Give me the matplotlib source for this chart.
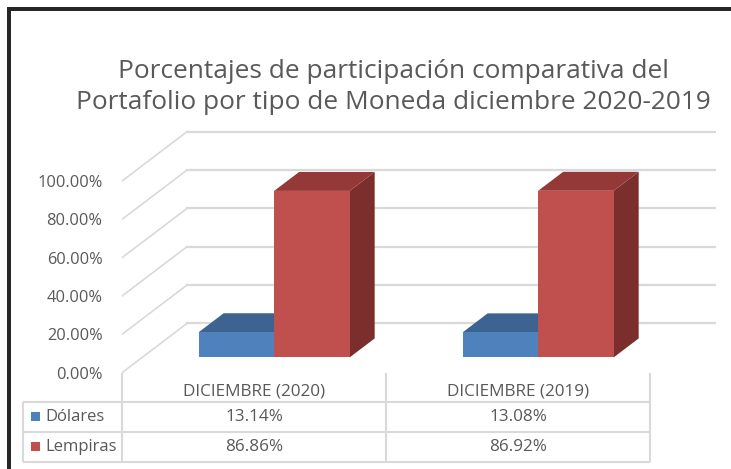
import matplotlib
matplotlib.use("Agg")
import matplotlib.pyplot as plt
from matplotlib.patches import Polygon, Rectangle

# data
categories = ["DICIEMBRE (2020)", "DICIEMBRE (2019)"]
series_names = ["Dólares", "Lempiras"]
dolares = [13.14, 13.08]
lempiras = [86.86, 86.92]
y_ticks = [0, 20, 40, 60, 80, 100]

BLUE, BLUE_TOP, BLUE_SIDE = "#4f81bd", "#3d6391", "#345580"
RED, RED_TOP, RED_SIDE = "#c0504d", "#943937", "#7b2f2d"
GRID = "#d9d9d9"
TEXT = "#595959"
FONT = "Open Sans"

W, H = 731, 469
plt.rcParams["font.family"] = [FONT, "DejaVu Sans"]
fig = plt.figure(figsize=(W / 100, H / 100), dpi=100)

# pixel layout of the front plane of the 3d plot
x_left, x_end = 122, 716
y_zero, y_top = 372.7, 125
px_per_cat = 264.0
px_per_pct = 1.917

ax = fig.add_axes([x_left / W, 1 - y_zero / H, (x_end - x_left) / W, (y_zero - y_top) / H])
xmax = -0.5 + (x_end - x_left) / px_per_cat
ax.set_xlim(-0.5, xmax)
ax.set_ylim(0, (y_zero - y_top) / px_per_pct)
ax.patch.set_visible(False)
for s in ax.spines.values():
    s.set_visible(False)

# depth of the floor and where the bars sit in it
wall_dx, wall_dy = 65 / px_per_cat, 49.3 / px_per_pct
front_dx, front_dy = 0.31 * wall_dx, 0.31 * wall_dy
bar_dx, bar_dy = 0.385 * wall_dx, 0.385 * wall_dy
bar_w = 0.286

# gridlines: diagonal on the left wall + horizontal on the back wall
for v in y_ticks:
    ax.plot([-0.5, -0.5 + wall_dx], [v, v + wall_dy], color=GRID, lw=1.2, zorder=1)
    ax.plot([-0.5 + wall_dx, xmax], [v + wall_dy, v + wall_dy], color=GRID, lw=1.6, zorder=1)


def bar3d(xc, value, front, top, side, z):
    x0 = xc - bar_w / 2 + front_dx
    x1 = x0 + bar_w
    y0 = front_dy
    y1 = front_dy + value
    ax.add_patch(Polygon([(x1, y0), (x1, y1), (x1 + bar_dx, y1 + bar_dy), (x1 + bar_dx, y0 + bar_dy)],
                         closed=True, facecolor=side, edgecolor="none", zorder=z))
    ax.add_patch(Polygon([(x0, y1), (x0 + bar_dx, y1 + bar_dy), (x1 + bar_dx, y1 + bar_dy), (x1, y1)],
                         closed=True, facecolor=top, edgecolor="none", zorder=z))
    ax.bar(xc + front_dx, value, bar_w, bottom=y0, color=front, zorder=z + 0.5)


for i in range(len(categories)):
    bar3d(i - bar_w / 2, dolares[i], BLUE, BLUE_TOP, BLUE_SIDE, 2)
    bar3d(i + bar_w / 2, lempiras[i], RED, RED_TOP, RED_SIDE, 3)

ax.set_xticks([])
ax.set_yticks(y_ticks)
ax.set_yticklabels([f"{v:.2f}%" for v in y_ticks], color=TEXT, fontsize=11.8)
ax.tick_params(axis="y", length=0, pad=14)

# overlay in pixel units for title, table and frame
ov = fig.add_axes([0, 0, 1, 1])
ov.set_xlim(0, W)
ov.set_ylim(H, 0)
ov.axis("off")

ov.text(393, 87, "Porcentajes de participación comparativa del\nPortafolio por tipo de Moneda diciembre 2020-2019",
        ha="center", va="center", multialignment="center", fontsize=18.9, color=TEXT, linespacing=1.28)

# data table
row_y = [402, 432, 462]
col_x = [x_left + k * px_per_cat for k in range(len(categories) + 1)]
tkw = dict(color=GRID, lw=1.5, solid_capstyle="butt")
for x in col_x:
    ov.plot([x, x], [y_zero, row_y[-1]], **tkw)
ov.plot([22.7, 22.7], [row_y[0], row_y[-1]], **tkw)
for y in row_y:
    ov.plot([22.7, col_x[-1]], [y, y], **tkw)

for k, cat in enumerate(categories):
    cx = (col_x[k] + col_x[k + 1]) / 2
    ov.text(cx, 392, cat, ha="center", va="center", fontsize=12.3, color=TEXT)
    for r, vals in enumerate([dolares, lempiras]):
        ov.text(cx, (row_y[r] + row_y[r + 1]) / 2, f"{vals[k]:.2f}%",
                ha="center", va="center", fontsize=12.3, color=TEXT)

for r, (name, col) in enumerate(zip(series_names, [BLUE, RED])):
    cy = (row_y[r] + row_y[r + 1]) / 2
    ov.add_patch(Rectangle((31, cy - 4.5), 9, 9, facecolor=col, edgecolor="none"))
    ov.text(45, cy, name, ha="left", va="center", fontsize=12, color=TEXT)

# black frame on top and left
ov.add_patch(Rectangle((7, 7), W, 4, facecolor="#262626", edgecolor="none"))
ov.add_patch(Rectangle((7, 7), 4, H, facecolor="#262626", edgecolor="none"))

fig.savefig("out.png", dpi=100)
